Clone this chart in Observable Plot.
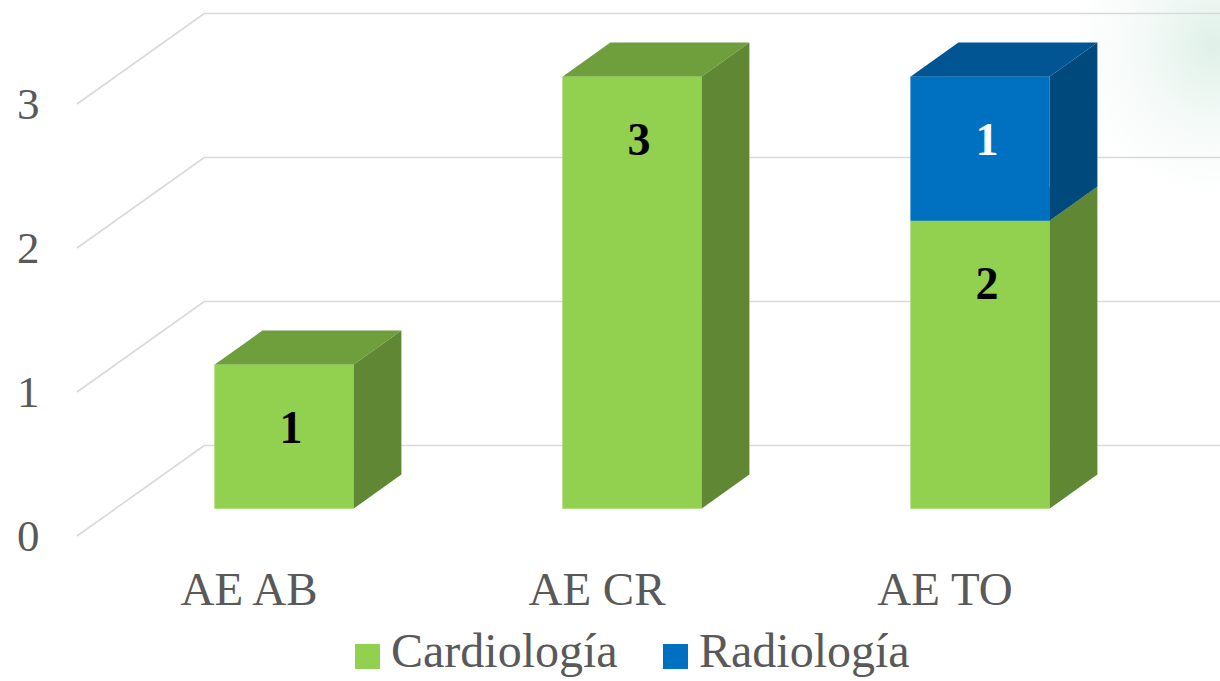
<!DOCTYPE html>
<html>
<head>
<meta charset="utf-8">
<script src="https://cdn.jsdelivr.net/npm/d3@7"></script>
<script src="https://cdn.jsdelivr.net/npm/@observablehq/plot@0.6"></script>
<style>
  html, body { margin: 0; padding: 0; background: #ffffff; overflow: hidden; }
  body { width: 1220px; height: 681px; position: relative; font-family: "Liberation Serif", "Times New Roman", serif; }
  #glow { position: absolute; left: 1070px; top: -80px; width: 260px; height: 280px;
          background: radial-gradient(ellipse at 55% 45%, rgba(210,234,224,0.7) 0%, rgba(228,242,235,0.4) 35%, rgba(255,255,255,0) 70%); }
  #chart { position: absolute; left: 0; top: 0; }
  .lg-sw { position: absolute; width: 25px; height: 25px; }
  .lg-tx { position: absolute; font-size: 48px; line-height: 48px; color: #595959; white-space: nowrap; }
</style>
</head>
<body>
<div id="glow"></div>
<div id="chart"></div>
<div id="legend"></div>
<script>
// ---- data ----
const categories = ["AE AB", "AE CR", "AE TO"];
const series = ["Cardiología", "Radiología"];
const cardiologia = [1, 3, 2];
const radiologia = [0, 0, 1];
const seriesColors = ["#92D050", "#0070C0"];
const labelColors = ["#000000", "#ffffff"];
const yTicks = [0, 1, 2, 3];

// ---- table built from the arrays ----
const seriesValues = [cardiologia, radiologia];
const rows = [];
series.forEach((s, si) => {
  categories.forEach((c, ci) => {
    const v = seriesValues[si][ci];
    if (v > 0) rows.push({category: c, service: s, value: v});
  });
});

// ---- 3D styling ----
const gridColor = "#D9D9D9";
const DEPTH_X = 128, DEPTH_Y = -91;   // full floor depth
const F1 = 0.3, F2 = 0.675;           // bar front / back depth fractions

function shade(color, k) {
  const c = d3.rgb(color);
  return d3.rgb(c.r * k, c.g * k, c.b * k).formatHex();
}

function bars3d(index, scales, values) {
  const g = d3.create("svg:g");
  const bw = scales.x.bandwidth();
  const fx = DEPTH_X * F1, fy = DEPTH_Y * F1;
  const ddx = DEPTH_X * (F2 - F1), ddy = DEPTH_Y * (F2 - F1);
  const idx = Array.from(index).sort((a, b) =>
    (values.x[a] - values.x[b]) || (Math.max(values.y1[b], values.y2[b]) - Math.max(values.y1[a], values.y2[a])));
  for (const i of idx) {
    const x0 = values.x[i] + fx, x1 = x0 + bw;
    const yb = Math.max(values.y1[i], values.y2[i]) + fy;
    const yt = Math.min(values.y1[i], values.y2[i]) + fy;
    const col = values.fill[i];
    g.append("polygon")
      .attr("points", [[x1, yt], [x1 + ddx, yt + ddy], [x1 + ddx, yb + ddy], [x1, yb]].join(" "))
      .attr("fill", shade(col, 0.65));
    g.append("polygon")
      .attr("points", [[x0, yt], [x0 + ddx, yt + ddy], [x1 + ddx, yt + ddy], [x1, yt]].join(" "))
      .attr("fill", shade(col, 0.76));
    g.append("rect")
      .attr("x", x0).attr("y", yt).attr("width", bw).attr("height", yb - yt)
      .attr("fill", col);
  }
  return g.node();
}

function floorDiagonals(index, scales, values, dims) {
  const g = d3.create("svg:g").attr("stroke", gridColor).attr("stroke-width", 1.6).attr("fill", "none");
  for (const t of yTicks) {
    const y = scales.y(t);
    g.append("line")
      .attr("x1", dims.marginLeft + 5).attr("y1", y)
      .attr("x2", dims.marginLeft + 5 + DEPTH_X).attr("y2", y + DEPTH_Y);
  }
  return g.node();
}

const labelMark = (si) => Plot.text(rows, Plot.stackY2({
  x: "category",
  y: "value",
  text: d => d.service === series[si] ? String(d.value) : null,
  fill: labelColors[si],
  fontSize: 46,
  fontWeight: "bold",
  fontFamily: '"Liberation Serif", "Times New Roman", serif',
  dx: 45,
  dy: 36
}));

const chart = Plot.plot({
  width: 1220,
  height: 625,
  marginLeft: 72,
  marginRight: 104,
  marginTop: 104,
  marginBottom: 89,
  style: {
    fontFamily: '"Liberation Serif", "Times New Roman", serif',
    color: "#595959",
    background: "transparent",
    overflow: "hidden"
  },
  x: {type: "band", domain: categories, paddingInner: 0.6, paddingOuter: 0.3},
  y: {domain: [0, 3], nice: false},
  color: {domain: series, range: seriesColors},
  marks: [
    Plot.ruleY(yTicks, {dx: DEPTH_X + 5, dy: DEPTH_Y, stroke: gridColor, strokeWidth: 1.6}),
    floorDiagonals,
    Plot.barY(rows, {x: "category", y: "value", fill: "service", render: bars3d}),
    labelMark(0),
    labelMark(1),
    Plot.axisY({ticks: yTicks, tickSize: 0, tickPadding: 33, fontSize: 45, tickFormat: d3.format("d"), label: null}),
    Plot.axisX({tickSize: 0, tickPadding: 35, fontSize: 47, dx: 3, label: null})
  ]
});
document.getElementById("chart").appendChild(chart);

// ---- legend (HTML, below the SVG) ----
const legend = document.getElementById("legend");
const legendPos = [{sw: 355, tx: 391}, {sw: 663, tx: 699}];
series.forEach((s, i) => {
  const sw = document.createElement("div");
  sw.className = "lg-sw";
  sw.style.left = legendPos[i].sw + "px";
  sw.style.top = "644px";
  sw.style.background = seriesColors[i];
  legend.appendChild(sw);
  const tx = document.createElement("div");
  tx.className = "lg-tx";
  tx.style.left = legendPos[i].tx + "px";
  tx.style.top = "627px";
  tx.textContent = s;
  legend.appendChild(tx);
});
</script>
</body>
</html>
